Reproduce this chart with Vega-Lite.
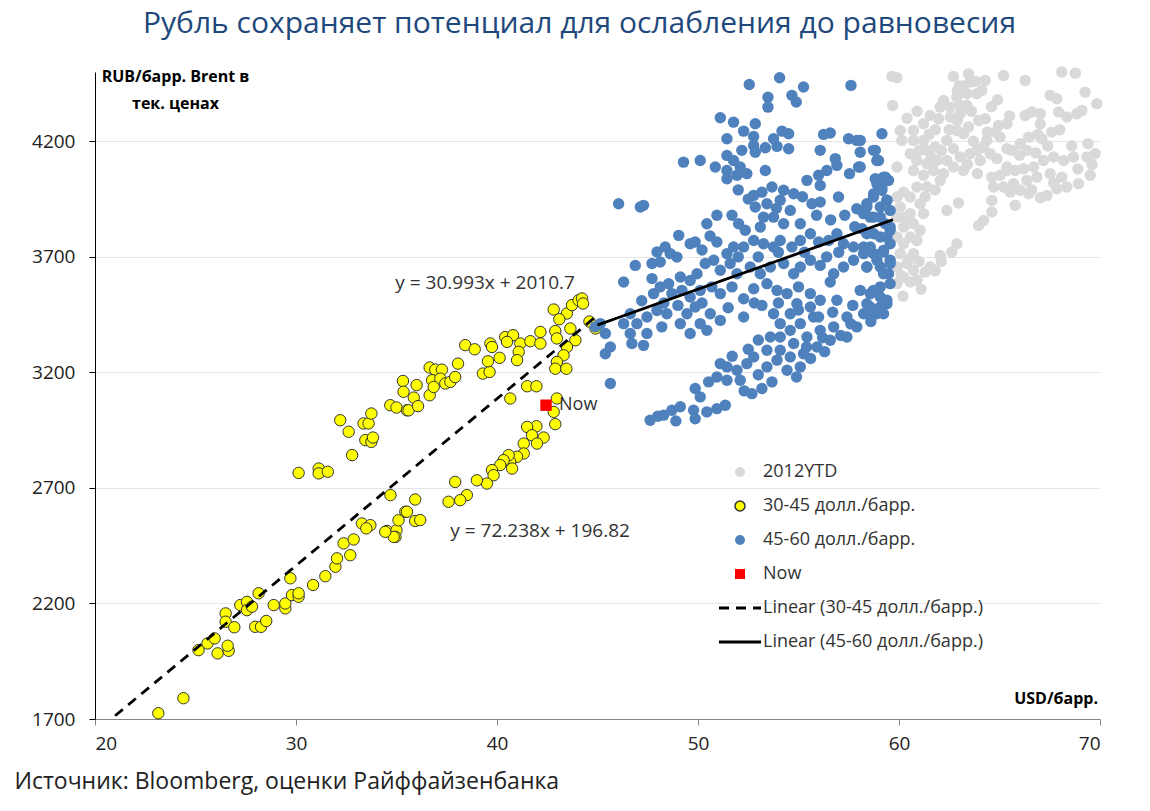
{
  "$schema": "https://vega.github.io/schema/vega-lite/v6.json",
  "width": 1005,
  "height": 647,
  "autosize": {"type": "none"},
  "padding": {"left": 95, "top": 72, "right": 50, "bottom": 92},
  "background": "white",
  "config": {
    "view": {"stroke": null},
    "font": "Open Sans",
    "text": {"font": "Open Sans"},
    "legend": {
      "orient": "none",
      "padding": 0,
      "rowPadding": 16,
      "labelFont": "Open Sans",
      "labelFontSize": 18,
      "labelColor": "#333333",
      "labelLimit": 400,
      "labelOffset": 14,
      "symbolSize": 100,
      "symbolOpacity": 1
    }
  },
  "title": {
    "text": "Рубль сохраняет потенциал для ослабления до равновесия",
    "font": "Open Sans",
    "fontSize": 30,
    "fontWeight": "normal",
    "color": "#1f497d",
    "anchor": "middle",
    "offset": 25,
    "dx": -18
  },
  "datasets": {
    "pts": [
      {"s": "g", "x": 59.65, "y": 4481}, {"s": "g", "x": 59.9, "y": 4475}, {"s": "g", "x": 59.68, "y": 4355}, {"s": "g", "x": 62.71, "y": 4481},
      {"s": "g", "x": 63.46, "y": 4492}, {"s": "g", "x": 63.54, "y": 4456}, {"s": "g", "x": 64.29, "y": 4463}, {"s": "g", "x": 65.2, "y": 4485},
      {"s": "g", "x": 66.28, "y": 4463}, {"s": "g", "x": 68.1, "y": 4500}, {"s": "g", "x": 68.77, "y": 4495}, {"s": "g", "x": 69.26, "y": 4413},
      {"s": "g", "x": 69.84, "y": 4363}, {"s": "g", "x": 67.52, "y": 4399}, {"s": "g", "x": 67.85, "y": 4384}, {"s": "g", "x": 67.94, "y": 4327},
      {"s": "g", "x": 67.03, "y": 4319}, {"s": "g", "x": 66.61, "y": 4327}, {"s": "g", "x": 66.28, "y": 4312}, {"s": "g", "x": 68.35, "y": 4305},
      {"s": "g", "x": 68.85, "y": 4319}, {"s": "g", "x": 69.1, "y": 4334}, {"s": "g", "x": 67.03, "y": 4276}, {"s": "g", "x": 67.6, "y": 4240},
      {"s": "g", "x": 67.11, "y": 4211}, {"s": "g", "x": 66.45, "y": 4218}, {"s": "g", "x": 66.03, "y": 4190}, {"s": "g", "x": 66.36, "y": 4161},
      {"s": "g", "x": 65.62, "y": 4161}, {"s": "g", "x": 65.37, "y": 4276}, {"s": "g", "x": 64.95, "y": 4269}, {"s": "g", "x": 64.79, "y": 4240},
      {"s": "g", "x": 64.37, "y": 4204}, {"s": "g", "x": 64.21, "y": 4175}, {"s": "g", "x": 63.96, "y": 4290}, {"s": "g", "x": 64.29, "y": 4298},
      {"s": "g", "x": 65.03, "y": 4218}, {"s": "g", "x": 62.22, "y": 4377}, {"s": "g", "x": 62.88, "y": 4391}, {"s": "g", "x": 63.38, "y": 4406},
      {"s": "g", "x": 63.87, "y": 4406}, {"s": "g", "x": 64.12, "y": 4420}, {"s": "g", "x": 62.05, "y": 4348}, {"s": "g", "x": 62.55, "y": 4348},
      {"s": "g", "x": 63.05, "y": 4355}, {"s": "g", "x": 63.38, "y": 4355}, {"s": "g", "x": 61.55, "y": 4312}, {"s": "g", "x": 61.97, "y": 4298},
      {"s": "g", "x": 62.55, "y": 4305}, {"s": "g", "x": 63.05, "y": 4319}, {"s": "g", "x": 63.46, "y": 4262}, {"s": "g", "x": 63.21, "y": 4233},
      {"s": "g", "x": 62.88, "y": 4247}, {"s": "g", "x": 61.22, "y": 4276}, {"s": "g", "x": 60.72, "y": 4247}, {"s": "g", "x": 60.06, "y": 4247},
      {"s": "g", "x": 60.14, "y": 4204}, {"s": "g", "x": 60.72, "y": 4204}, {"s": "g", "x": 61.22, "y": 4204}, {"s": "g", "x": 61.8, "y": 4175},
      {"s": "g", "x": 62.38, "y": 4204}, {"s": "g", "x": 62.71, "y": 4168}, {"s": "g", "x": 61.39, "y": 4161}, {"s": "g", "x": 60.56, "y": 4146},
      {"s": "g", "x": 60.89, "y": 4117}, {"s": "g", "x": 61.39, "y": 4103}, {"s": "g", "x": 61.89, "y": 4117}, {"s": "g", "x": 62.38, "y": 4117},
      {"s": "g", "x": 63.05, "y": 4132}, {"s": "g", "x": 63.54, "y": 4146}, {"s": "g", "x": 64.04, "y": 4117}, {"s": "g", "x": 64.54, "y": 4146},
      {"s": "g", "x": 64.87, "y": 4125}, {"s": "g", "x": 65.37, "y": 4168}, {"s": "g", "x": 59.9, "y": 4089}, {"s": "g", "x": 60.72, "y": 4074},
      {"s": "g", "x": 61.22, "y": 4053}, {"s": "g", "x": 61.72, "y": 4074}, {"s": "g", "x": 62.22, "y": 4060}, {"s": "g", "x": 62.71, "y": 4089},
      {"s": "g", "x": 63.21, "y": 4074}, {"s": "g", "x": 62.05, "y": 4031}, {"s": "g", "x": 61.39, "y": 4002}, {"s": "g", "x": 60.89, "y": 4002},
      {"s": "g", "x": 60.23, "y": 3980}, {"s": "g", "x": 59.9, "y": 3959}, {"s": "g", "x": 60.56, "y": 3959}, {"s": "g", "x": 61.05, "y": 3930},
      {"s": "g", "x": 60.06, "y": 3916}, {"s": "g", "x": 60.56, "y": 3887}, {"s": "g", "x": 61.22, "y": 3887}, {"s": "g", "x": 59.9, "y": 3872},
      {"s": "g", "x": 60.23, "y": 3829}, {"s": "g", "x": 60.72, "y": 3843}, {"s": "g", "x": 61.05, "y": 3815}, {"s": "g", "x": 59.9, "y": 3786},
      {"s": "g", "x": 60.56, "y": 3786}, {"s": "g", "x": 60.23, "y": 3757}, {"s": "g", "x": 60.89, "y": 3771}, {"s": "g", "x": 60.06, "y": 3714},
      {"s": "g", "x": 60.72, "y": 3714}, {"s": "g", "x": 60.39, "y": 3671}, {"s": "g", "x": 59.9, "y": 3656}, {"s": "g", "x": 60.72, "y": 3642},
      {"s": "g", "x": 60.23, "y": 3613}, {"s": "g", "x": 59.9, "y": 3584}, {"s": "g", "x": 60.56, "y": 3591}, {"s": "g", "x": 61.3, "y": 3634},
      {"s": "g", "x": 61.55, "y": 3656}, {"s": "g", "x": 62.05, "y": 3706}, {"s": "g", "x": 62.63, "y": 3721}, {"s": "g", "x": 62.88, "y": 3757},
      {"s": "g", "x": 62.38, "y": 3901}, {"s": "g", "x": 62.96, "y": 3933}, {"s": "g", "x": 63.96, "y": 3836}, {"s": "g", "x": 64.21, "y": 3858},
      {"s": "g", "x": 64.62, "y": 3894}, {"s": "g", "x": 64.62, "y": 3944}, {"s": "g", "x": 64.7, "y": 4002}, {"s": "g", "x": 64.62, "y": 4045},
      {"s": "g", "x": 65.03, "y": 4053}, {"s": "g", "x": 65.37, "y": 4089}, {"s": "g", "x": 65.78, "y": 4074}, {"s": "g", "x": 66.2, "y": 4081},
      {"s": "g", "x": 66.7, "y": 4089}, {"s": "g", "x": 67.19, "y": 4117}, {"s": "g", "x": 67.69, "y": 4132}, {"s": "g", "x": 68.19, "y": 4117},
      {"s": "g", "x": 68.68, "y": 4132}, {"s": "g", "x": 69.35, "y": 4132}, {"s": "g", "x": 69.76, "y": 4146}, {"s": "g", "x": 69.51, "y": 4053},
      {"s": "g", "x": 68.93, "y": 4017}, {"s": "g", "x": 68.35, "y": 4002}, {"s": "g", "x": 67.85, "y": 3995}, {"s": "g", "x": 67.36, "y": 3966},
      {"s": "g", "x": 67.03, "y": 3956}, {"s": "g", "x": 68.1, "y": 4045}, {"s": "g", "x": 67.52, "y": 4060}, {"s": "g", "x": 66.86, "y": 4045},
      {"s": "g", "x": 66.36, "y": 4031}, {"s": "g", "x": 65.7, "y": 4017}, {"s": "g", "x": 65.54, "y": 3980}, {"s": "g", "x": 66.03, "y": 3988},
      {"s": "g", "x": 65.78, "y": 3923}, {"s": "g", "x": 66.45, "y": 3973}, {"s": "g", "x": 65.2, "y": 4002}, {"s": "g", "x": 65.37, "y": 4074},
      {"s": "g", "x": 63.7, "y": 4200}, {"s": "g", "x": 63.9, "y": 4160}, {"s": "g", "x": 62.9, "y": 4420}, {"s": "g", "x": 63.2, "y": 4440},
      {"s": "g", "x": 61.8, "y": 4250}, {"s": "g", "x": 61.5, "y": 4230}, {"s": "g", "x": 60.4, "y": 4300}, {"s": "g", "x": 60.9, "y": 4330},
      {"s": "g", "x": 62.1, "y": 3680}, {"s": "g", "x": 61.8, "y": 3640}, {"s": "g", "x": 60.9, "y": 3600}, {"s": "g", "x": 61.1, "y": 3560},
      {"s": "g", "x": 60.2, "y": 3530}, {"s": "g", "x": 66.9, "y": 4230}, {"s": "g", "x": 68.6, "y": 4180}, {"s": "g", "x": 69.4, "y": 4190},
      {"s": "g", "x": 62.5, "y": 4250}, {"s": "g", "x": 62.9, "y": 4290}, {"s": "g", "x": 63.6, "y": 4330}, {"s": "g", "x": 64.6, "y": 4350},
      {"s": "g", "x": 64.9, "y": 4380}, {"s": "g", "x": 65.5, "y": 4310}, {"s": "g", "x": 63.0, "y": 4440}, {"s": "g", "x": 63.8, "y": 4460},
      {"s": "g", "x": 64.4, "y": 4240}, {"s": "g", "x": 61.0, "y": 4160}, {"s": "g", "x": 61.6, "y": 4130}, {"s": "g", "x": 62.1, "y": 4160},
      {"s": "g", "x": 63.4, "y": 4100}, {"s": "g", "x": 63.9, "y": 4060}, {"s": "g", "x": 61.3, "y": 3960}, {"s": "g", "x": 61.8, "y": 3990},
      {"s": "g", "x": 60.3, "y": 3870}, {"s": "g", "x": 60.5, "y": 3690}, {"s": "g", "x": 61.0, "y": 3680}, {"s": "g", "x": 60.1, "y": 3620},
      {"s": "g", "x": 66.8, "y": 4150}, {"s": "g", "x": 67.4, "y": 4180}, {"s": "g", "x": 68.0, "y": 4250}, {"s": "g", "x": 68.9, "y": 4080},
      {"s": "g", "x": 69.6, "y": 4100}, {"s": "g", "x": 67.7, "y": 4020}, {"s": "g", "x": 66.6, "y": 3990}, {"s": "g", "x": 66.0, "y": 4140},
      {"s": "y", "x": 23.15, "y": 1725}, {"s": "y", "x": 24.4, "y": 1790}, {"s": "y", "x": 25.15, "y": 1998}, {"s": "y", "x": 25.6, "y": 2027},
      {"s": "y", "x": 25.95, "y": 2049}, {"s": "y", "x": 26.1, "y": 1984}, {"s": "y", "x": 26.65, "y": 1995}, {"s": "y", "x": 26.6, "y": 2017},
      {"s": "y", "x": 26.5, "y": 2157}, {"s": "y", "x": 26.5, "y": 2121}, {"s": "y", "x": 26.93, "y": 2097}, {"s": "y", "x": 27.23, "y": 2193},
      {"s": "y", "x": 27.56, "y": 2207}, {"s": "y", "x": 27.56, "y": 2171}, {"s": "y", "x": 27.81, "y": 2186}, {"s": "y", "x": 28.14, "y": 2244},
      {"s": "y", "x": 27.97, "y": 2099}, {"s": "y", "x": 28.26, "y": 2099}, {"s": "y", "x": 28.52, "y": 2124}, {"s": "y", "x": 28.89, "y": 2193},
      {"s": "y", "x": 29.47, "y": 2179}, {"s": "y", "x": 29.47, "y": 2200}, {"s": "y", "x": 29.72, "y": 2309}, {"s": "y", "x": 29.8, "y": 2236},
      {"s": "y", "x": 30.13, "y": 2229}, {"s": "y", "x": 30.13, "y": 2244}, {"s": "y", "x": 30.85, "y": 2280}, {"s": "y", "x": 31.46, "y": 2318},
      {"s": "y", "x": 31.96, "y": 2359}, {"s": "y", "x": 32.04, "y": 2395}, {"s": "y", "x": 32.37, "y": 2460}, {"s": "y", "x": 32.87, "y": 2477},
      {"s": "y", "x": 32.7, "y": 2409}, {"s": "y", "x": 33.28, "y": 2546}, {"s": "y", "x": 33.7, "y": 2539}, {"s": "y", "x": 33.5, "y": 2525},
      {"s": "y", "x": 34.53, "y": 2514}, {"s": "y", "x": 35.0, "y": 2517}, {"s": "y", "x": 34.95, "y": 2488}, {"s": "y", "x": 35.1, "y": 2560},
      {"s": "y", "x": 35.44, "y": 2597}, {"s": "y", "x": 34.7, "y": 2669}, {"s": "y", "x": 30.13, "y": 2765}, {"s": "y", "x": 31.13, "y": 2784},
      {"s": "y", "x": 31.13, "y": 2763}, {"s": "y", "x": 31.58, "y": 2770}, {"s": "y", "x": 32.79, "y": 2842}, {"s": "y", "x": 32.2, "y": 2993},
      {"s": "y", "x": 32.62, "y": 2943}, {"s": "y", "x": 33.36, "y": 2979}, {"s": "y", "x": 33.61, "y": 2979}, {"s": "y", "x": 33.75, "y": 3022},
      {"s": "y", "x": 33.45, "y": 2907}, {"s": "y", "x": 33.75, "y": 2899}, {"s": "y", "x": 33.83, "y": 2918}, {"s": "y", "x": 34.69, "y": 3058},
      {"s": "y", "x": 35.0, "y": 3048}, {"s": "y", "x": 35.32, "y": 3163}, {"s": "y", "x": 35.35, "y": 3116}, {"s": "y", "x": 35.52, "y": 3036},
      {"s": "y", "x": 36.0, "y": 3145}, {"s": "y", "x": 35.86, "y": 3091}, {"s": "y", "x": 35.6, "y": 3036}, {"s": "y", "x": 36.07, "y": 3054},
      {"s": "y", "x": 36.65, "y": 3221}, {"s": "y", "x": 36.93, "y": 3212}, {"s": "y", "x": 37.26, "y": 3212}, {"s": "y", "x": 36.77, "y": 3166},
      {"s": "y", "x": 37.18, "y": 3173}, {"s": "y", "x": 36.65, "y": 3101}, {"s": "y", "x": 36.85, "y": 3137}, {"s": "y", "x": 37.43, "y": 3152},
      {"s": "y", "x": 37.68, "y": 3159}, {"s": "y", "x": 37.92, "y": 3180}, {"s": "y", "x": 38.06, "y": 3238}, {"s": "y", "x": 38.42, "y": 3318},
      {"s": "y", "x": 38.89, "y": 3300}, {"s": "y", "x": 39.3, "y": 3195}, {"s": "y", "x": 39.63, "y": 3202}, {"s": "y", "x": 39.55, "y": 3248},
      {"s": "y", "x": 39.67, "y": 3325}, {"s": "y", "x": 39.75, "y": 3310}, {"s": "y", "x": 40.13, "y": 3263}, {"s": "y", "x": 40.41, "y": 3353},
      {"s": "y", "x": 40.8, "y": 3361}, {"s": "y", "x": 40.5, "y": 3332}, {"s": "y", "x": 41.16, "y": 3325}, {"s": "y", "x": 41.08, "y": 3289},
      {"s": "y", "x": 41.0, "y": 3253}, {"s": "y", "x": 41.66, "y": 3335}, {"s": "y", "x": 42.16, "y": 3375}, {"s": "y", "x": 42.16, "y": 3325},
      {"s": "y", "x": 42.9, "y": 3379}, {"s": "y", "x": 42.82, "y": 3472}, {"s": "y", "x": 43.48, "y": 3455}, {"s": "y", "x": 43.73, "y": 3491},
      {"s": "y", "x": 44.06, "y": 3512}, {"s": "y", "x": 44.23, "y": 3520}, {"s": "y", "x": 44.28, "y": 3498}, {"s": "y", "x": 43.65, "y": 3390},
      {"s": "y", "x": 43.9, "y": 3339}, {"s": "y", "x": 43.48, "y": 3310}, {"s": "y", "x": 43.31, "y": 3274}, {"s": "y", "x": 42.98, "y": 3245},
      {"s": "y", "x": 42.9, "y": 3216}, {"s": "y", "x": 43.45, "y": 3216}, {"s": "y", "x": 42.98, "y": 3347}, {"s": "y", "x": 41.5, "y": 3140},
      {"s": "y", "x": 41.96, "y": 3140}, {"s": "y", "x": 40.66, "y": 3087}, {"s": "y", "x": 42.98, "y": 3087}, {"s": "y", "x": 42.82, "y": 3029},
      {"s": "y", "x": 42.9, "y": 2976}, {"s": "y", "x": 41.96, "y": 2967}, {"s": "y", "x": 41.5, "y": 2964}, {"s": "y", "x": 41.74, "y": 2928},
      {"s": "y", "x": 42.32, "y": 2918}, {"s": "y", "x": 41.99, "y": 2892}, {"s": "y", "x": 41.33, "y": 2892}, {"s": "y", "x": 41.33, "y": 2849},
      {"s": "y", "x": 41.0, "y": 2835}, {"s": "y", "x": 40.66, "y": 2813}, {"s": "y", "x": 40.58, "y": 2842}, {"s": "y", "x": 40.33, "y": 2820},
      {"s": "y", "x": 40.75, "y": 2784}, {"s": "y", "x": 40.16, "y": 2799}, {"s": "y", "x": 39.75, "y": 2777}, {"s": "y", "x": 39.83, "y": 2755},
      {"s": "y", "x": 39.5, "y": 2719}, {"s": "y", "x": 39.0, "y": 2733}, {"s": "y", "x": 38.5, "y": 2669}, {"s": "y", "x": 38.17, "y": 2647},
      {"s": "y", "x": 37.92, "y": 2726}, {"s": "y", "x": 37.59, "y": 2640}, {"s": "y", "x": 35.93, "y": 2650}, {"s": "y", "x": 35.52, "y": 2597},
      {"s": "y", "x": 35.93, "y": 2557}, {"s": "y", "x": 36.18, "y": 2561}, {"s": "y", "x": 34.86, "y": 2488}, {"s": "y", "x": 34.44, "y": 2510},
      {"s": "y", "x": 44.9, "y": 3390}, {"s": "y", "x": 44.6, "y": 3420}, {"s": "y", "x": 43.1, "y": 3430},
      {"s": "b", "x": 52.55, "y": 4446}, {"s": "b", "x": 54.06, "y": 4475}, {"s": "b", "x": 55.25, "y": 4435}, {"s": "b", "x": 57.61, "y": 4442},
      {"s": "b", "x": 53.48, "y": 4391}, {"s": "b", "x": 53.48, "y": 4348}, {"s": "b", "x": 54.67, "y": 4399}, {"s": "b", "x": 54.89, "y": 4370},
      {"s": "b", "x": 51.11, "y": 4302}, {"s": "b", "x": 51.77, "y": 4283}, {"s": "b", "x": 52.85, "y": 4276}, {"s": "b", "x": 52.27, "y": 4244},
      {"s": "b", "x": 51.44, "y": 4211}, {"s": "b", "x": 52.77, "y": 4221}, {"s": "b", "x": 54.18, "y": 4244}, {"s": "b", "x": 54.51, "y": 4233},
      {"s": "b", "x": 53.76, "y": 4211}, {"s": "b", "x": 52.77, "y": 4182}, {"s": "b", "x": 53.35, "y": 4172}, {"s": "b", "x": 53.93, "y": 4178},
      {"s": "b", "x": 54.51, "y": 4168}, {"s": "b", "x": 52.18, "y": 4161}, {"s": "b", "x": 51.44, "y": 4139}, {"s": "b", "x": 52.85, "y": 4153},
      {"s": "b", "x": 56.25, "y": 4230}, {"s": "b", "x": 56.58, "y": 4236}, {"s": "b", "x": 57.49, "y": 4211}, {"s": "b", "x": 57.9, "y": 4204},
      {"s": "b", "x": 59.15, "y": 4233}, {"s": "b", "x": 56.08, "y": 4161}, {"s": "b", "x": 56.83, "y": 4125}, {"s": "b", "x": 58.07, "y": 4153},
      {"s": "b", "x": 58.82, "y": 4161}, {"s": "b", "x": 58.98, "y": 4117}, {"s": "b", "x": 49.28, "y": 4110}, {"s": "b", "x": 50.11, "y": 4117},
      {"s": "b", "x": 50.86, "y": 4089}, {"s": "b", "x": 51.77, "y": 4117}, {"s": "b", "x": 52.1, "y": 4089}, {"s": "b", "x": 51.44, "y": 4074},
      {"s": "b", "x": 52.43, "y": 4060}, {"s": "b", "x": 51.94, "y": 4053}, {"s": "b", "x": 51.44, "y": 4038}, {"s": "b", "x": 53.35, "y": 4074},
      {"s": "b", "x": 55.42, "y": 4031}, {"s": "b", "x": 56.0, "y": 4053}, {"s": "b", "x": 56.41, "y": 4074}, {"s": "b", "x": 56.08, "y": 4009},
      {"s": "b", "x": 56.91, "y": 4096}, {"s": "b", "x": 57.54, "y": 4060}, {"s": "b", "x": 57.99, "y": 4089}, {"s": "b", "x": 59.32, "y": 4045},
      {"s": "b", "x": 58.82, "y": 4038}, {"s": "b", "x": 46.05, "y": 3930}, {"s": "b", "x": 47.13, "y": 3916}, {"s": "b", "x": 47.29, "y": 3923},
      {"s": "b", "x": 50.94, "y": 3880}, {"s": "b", "x": 50.44, "y": 3843}, {"s": "b", "x": 51.69, "y": 3880}, {"s": "b", "x": 52.02, "y": 3843},
      {"s": "b", "x": 52.35, "y": 3815}, {"s": "b", "x": 52.77, "y": 3966}, {"s": "b", "x": 53.18, "y": 3980}, {"s": "b", "x": 53.68, "y": 4002},
      {"s": "b", "x": 54.26, "y": 3988}, {"s": "b", "x": 54.76, "y": 3973}, {"s": "b", "x": 54.09, "y": 3945}, {"s": "b", "x": 53.43, "y": 3930},
      {"s": "b", "x": 52.85, "y": 3916}, {"s": "b", "x": 54.59, "y": 3901}, {"s": "b", "x": 55.09, "y": 3843}, {"s": "b", "x": 53.26, "y": 3872},
      {"s": "b", "x": 53.76, "y": 3872}, {"s": "b", "x": 54.26, "y": 3843}, {"s": "b", "x": 53.1, "y": 3829}, {"s": "b", "x": 55.67, "y": 3930},
      {"s": "b", "x": 56.08, "y": 3937}, {"s": "b", "x": 56.99, "y": 3959}, {"s": "b", "x": 57.9, "y": 3908}, {"s": "b", "x": 58.4, "y": 3916},
      {"s": "b", "x": 58.74, "y": 3973}, {"s": "b", "x": 59.15, "y": 4002}, {"s": "b", "x": 59.4, "y": 3945}, {"s": "b", "x": 58.57, "y": 3872},
      {"s": "b", "x": 59.07, "y": 3872}, {"s": "b", "x": 59.56, "y": 3829}, {"s": "b", "x": 59.4, "y": 3786}, {"s": "b", "x": 58.74, "y": 3800},
      {"s": "b", "x": 58.16, "y": 3822}, {"s": "b", "x": 49.04, "y": 3793}, {"s": "b", "x": 49.61, "y": 3757}, {"s": "b", "x": 49.86, "y": 3764},
      {"s": "b", "x": 48.37, "y": 3743}, {"s": "b", "x": 47.96, "y": 3721}, {"s": "b", "x": 48.62, "y": 3714}, {"s": "b", "x": 48.95, "y": 3699},
      {"s": "b", "x": 47.71, "y": 3671}, {"s": "b", "x": 48.12, "y": 3678}, {"s": "b", "x": 47.71, "y": 3606}, {"s": "b", "x": 46.88, "y": 3663},
      {"s": "b", "x": 46.3, "y": 3591}, {"s": "b", "x": 50.94, "y": 3764}, {"s": "b", "x": 51.44, "y": 3714}, {"s": "b", "x": 51.77, "y": 3743},
      {"s": "b", "x": 52.27, "y": 3743}, {"s": "b", "x": 52.77, "y": 3771}, {"s": "b", "x": 53.26, "y": 3757}, {"s": "b", "x": 53.76, "y": 3743},
      {"s": "b", "x": 54.09, "y": 3771}, {"s": "b", "x": 54.67, "y": 3743}, {"s": "b", "x": 55.09, "y": 3771}, {"s": "b", "x": 55.59, "y": 3800},
      {"s": "b", "x": 56.0, "y": 3764}, {"s": "b", "x": 56.5, "y": 3771}, {"s": "b", "x": 56.91, "y": 3800}, {"s": "b", "x": 57.24, "y": 3757},
      {"s": "b", "x": 57.74, "y": 3743}, {"s": "b", "x": 58.24, "y": 3743}, {"s": "b", "x": 58.74, "y": 3714}, {"s": "b", "x": 59.23, "y": 3721},
      {"s": "b", "x": 59.56, "y": 3685}, {"s": "b", "x": 59.07, "y": 3656}, {"s": "b", "x": 58.4, "y": 3656}, {"s": "b", "x": 57.74, "y": 3685},
      {"s": "b", "x": 57.24, "y": 3656}, {"s": "b", "x": 56.75, "y": 3627}, {"s": "b", "x": 56.08, "y": 3663}, {"s": "b", "x": 55.59, "y": 3685},
      {"s": "b", "x": 55.09, "y": 3656}, {"s": "b", "x": 54.76, "y": 3627}, {"s": "b", "x": 54.26, "y": 3671}, {"s": "b", "x": 53.6, "y": 3656},
      {"s": "b", "x": 53.1, "y": 3627}, {"s": "b", "x": 52.6, "y": 3656}, {"s": "b", "x": 51.94, "y": 3627}, {"s": "b", "x": 51.6, "y": 3671},
      {"s": "b", "x": 51.11, "y": 3642}, {"s": "b", "x": 50.78, "y": 3685}, {"s": "b", "x": 50.36, "y": 3671}, {"s": "b", "x": 49.95, "y": 3627},
      {"s": "b", "x": 49.61, "y": 3598}, {"s": "b", "x": 49.12, "y": 3613}, {"s": "b", "x": 48.54, "y": 3584}, {"s": "b", "x": 48.12, "y": 3570},
      {"s": "b", "x": 47.79, "y": 3541}, {"s": "b", "x": 48.7, "y": 3541}, {"s": "b", "x": 49.2, "y": 3555}, {"s": "b", "x": 49.61, "y": 3526},
      {"s": "b", "x": 50.11, "y": 3555}, {"s": "b", "x": 50.69, "y": 3570}, {"s": "b", "x": 51.11, "y": 3541}, {"s": "b", "x": 51.69, "y": 3570},
      {"s": "b", "x": 52.27, "y": 3519}, {"s": "b", "x": 52.77, "y": 3562}, {"s": "b", "x": 53.43, "y": 3584}, {"s": "b", "x": 53.93, "y": 3555},
      {"s": "b", "x": 54.43, "y": 3541}, {"s": "b", "x": 55.0, "y": 3570}, {"s": "b", "x": 55.59, "y": 3541}, {"s": "b", "x": 56.08, "y": 3512},
      {"s": "b", "x": 56.58, "y": 3591}, {"s": "b", "x": 56.91, "y": 3512}, {"s": "b", "x": 58.07, "y": 3555}, {"s": "b", "x": 58.57, "y": 3541},
      {"s": "b", "x": 59.07, "y": 3570}, {"s": "b", "x": 59.48, "y": 3627}, {"s": "b", "x": 59.4, "y": 3512}, {"s": "b", "x": 59.07, "y": 3483},
      {"s": "b", "x": 58.57, "y": 3483}, {"s": "b", "x": 58.24, "y": 3454}, {"s": "b", "x": 58.9, "y": 3454}, {"s": "b", "x": 46.63, "y": 3454},
      {"s": "b", "x": 46.3, "y": 3411}, {"s": "b", "x": 46.96, "y": 3411}, {"s": "b", "x": 47.46, "y": 3440}, {"s": "b", "x": 47.96, "y": 3468},
      {"s": "b", "x": 48.45, "y": 3454}, {"s": "b", "x": 48.2, "y": 3397}, {"s": "b", "x": 49.12, "y": 3411}, {"s": "b", "x": 49.45, "y": 3454},
      {"s": "b", "x": 49.86, "y": 3483}, {"s": "b", "x": 50.11, "y": 3411}, {"s": "b", "x": 50.61, "y": 3454}, {"s": "b", "x": 51.11, "y": 3425},
      {"s": "b", "x": 50.44, "y": 3382}, {"s": "b", "x": 49.61, "y": 3368}, {"s": "b", "x": 47.46, "y": 3368}, {"s": "b", "x": 46.63, "y": 3368},
      {"s": "b", "x": 47.29, "y": 3317}, {"s": "b", "x": 46.71, "y": 3325}, {"s": "b", "x": 45.39, "y": 3368}, {"s": "b", "x": 45.14, "y": 3411},
      {"s": "b", "x": 44.89, "y": 3397}, {"s": "b", "x": 45.39, "y": 3281}, {"s": "b", "x": 45.64, "y": 3310}, {"s": "b", "x": 45.64, "y": 3152},
      {"s": "b", "x": 52.27, "y": 3440}, {"s": "b", "x": 53.18, "y": 3490}, {"s": "b", "x": 53.76, "y": 3454}, {"s": "b", "x": 54.09, "y": 3411},
      {"s": "b", "x": 54.59, "y": 3454}, {"s": "b", "x": 54.92, "y": 3497}, {"s": "b", "x": 55.59, "y": 3483}, {"s": "b", "x": 55.75, "y": 3440},
      {"s": "b", "x": 55.09, "y": 3411}, {"s": "b", "x": 54.59, "y": 3382}, {"s": "b", "x": 54.09, "y": 3353}, {"s": "b", "x": 53.6, "y": 3353},
      {"s": "b", "x": 53.43, "y": 3296}, {"s": "b", "x": 54.09, "y": 3296}, {"s": "b", "x": 54.76, "y": 3325}, {"s": "b", "x": 55.42, "y": 3353},
      {"s": "b", "x": 56.08, "y": 3382}, {"s": "b", "x": 56.75, "y": 3397}, {"s": "b", "x": 57.41, "y": 3440}, {"s": "b", "x": 57.9, "y": 3397},
      {"s": "b", "x": 57.41, "y": 3353}, {"s": "b", "x": 56.58, "y": 3339}, {"s": "b", "x": 55.92, "y": 3310}, {"s": "b", "x": 55.25, "y": 3281},
      {"s": "b", "x": 54.59, "y": 3267}, {"s": "b", "x": 53.93, "y": 3253}, {"s": "b", "x": 53.43, "y": 3224}, {"s": "b", "x": 54.43, "y": 3209},
      {"s": "b", "x": 55.09, "y": 3224}, {"s": "b", "x": 52.77, "y": 3267}, {"s": "b", "x": 52.43, "y": 3238}, {"s": "b", "x": 51.94, "y": 3209},
      {"s": "b", "x": 51.44, "y": 3224}, {"s": "b", "x": 51.11, "y": 3238}, {"s": "b", "x": 50.94, "y": 3180}, {"s": "b", "x": 50.53, "y": 3159},
      {"s": "b", "x": 51.44, "y": 3166}, {"s": "b", "x": 52.1, "y": 3166}, {"s": "b", "x": 52.68, "y": 3108}, {"s": "b", "x": 53.18, "y": 3130},
      {"s": "b", "x": 53.68, "y": 3159}, {"s": "b", "x": 49.86, "y": 3130}, {"s": "b", "x": 50.11, "y": 3094}, {"s": "b", "x": 51.36, "y": 3058},
      {"s": "b", "x": 50.94, "y": 3043}, {"s": "b", "x": 49.78, "y": 3036}, {"s": "b", "x": 49.12, "y": 3051}, {"s": "b", "x": 48.7, "y": 3036},
      {"s": "b", "x": 48.29, "y": 3015}, {"s": "b", "x": 47.62, "y": 2993}, {"s": "b", "x": 49.86, "y": 2999}, {"s": "b", "x": 50.44, "y": 3029},
      {"s": "b", "x": 58.07, "y": 4204}, {"s": "b", "x": 58.73, "y": 4161}, {"s": "b", "x": 58.9, "y": 4117}, {"s": "b", "x": 58.07, "y": 4089},
      {"s": "b", "x": 59.23, "y": 4045}, {"s": "b", "x": 59.48, "y": 4031}, {"s": "b", "x": 58.9, "y": 4017}, {"s": "b", "x": 59.15, "y": 3988},
      {"s": "b", "x": 58.73, "y": 3959}, {"s": "b", "x": 59.4, "y": 3945}, {"s": "b", "x": 58.4, "y": 3930}, {"s": "b", "x": 59.07, "y": 3916},
      {"s": "b", "x": 59.56, "y": 3901}, {"s": "b", "x": 58.24, "y": 3887}, {"s": "b", "x": 58.73, "y": 3872}, {"s": "b", "x": 59.32, "y": 3843},
      {"s": "b", "x": 59.56, "y": 3815}, {"s": "b", "x": 58.4, "y": 3800}, {"s": "b", "x": 59.07, "y": 3786}, {"s": "b", "x": 59.56, "y": 3757},
      {"s": "b", "x": 58.57, "y": 3743}, {"s": "b", "x": 59.23, "y": 3728}, {"s": "b", "x": 58.24, "y": 3714}, {"s": "b", "x": 58.9, "y": 3685},
      {"s": "b", "x": 59.56, "y": 3671}, {"s": "b", "x": 58.4, "y": 3656}, {"s": "b", "x": 59.23, "y": 3627}, {"s": "b", "x": 59.56, "y": 3584},
      {"s": "b", "x": 58.73, "y": 3555}, {"s": "b", "x": 59.07, "y": 3526}, {"s": "b", "x": 58.4, "y": 3497}, {"s": "b", "x": 59.4, "y": 3497},
      {"s": "b", "x": 58.73, "y": 3454}, {"s": "b", "x": 59.23, "y": 3454}, {"s": "b", "x": 58.6, "y": 3420}, {"s": "b", "x": 57.6, "y": 3410},
      {"s": "b", "x": 57.1, "y": 3360}, {"s": "b", "x": 56.3, "y": 3290}, {"s": "b", "x": 55.6, "y": 3260}, {"s": "b", "x": 54.9, "y": 3180},
      {"s": "b", "x": 53.0, "y": 3190}, {"s": "b", "x": 52.3, "y": 3120}, {"s": "b", "x": 48.0, "y": 3010}, {"s": "b", "x": 48.9, "y": 2990},
      {"s": "b", "x": 52.0, "y": 3990}, {"s": "b", "x": 52.5, "y": 3950}, {"s": "b", "x": 53.9, "y": 3910}, {"s": "b", "x": 55.2, "y": 3960},
      {"s": "b", "x": 55.9, "y": 3880}, {"s": "b", "x": 56.6, "y": 3860}, {"s": "b", "x": 57.3, "y": 3880}, {"s": "b", "x": 57.8, "y": 3830},
      {"s": "b", "x": 50.2, "y": 3730}, {"s": "b", "x": 50.6, "y": 3790}, {"s": "b", "x": 52.0, "y": 3700}, {"s": "b", "x": 53.0, "y": 3700},
      {"s": "b", "x": 54.0, "y": 3720}, {"s": "b", "x": 55.3, "y": 3720}, {"s": "b", "x": 56.4, "y": 3700}, {"s": "b", "x": 57.0, "y": 3720},
      {"s": "b", "x": 47.2, "y": 3510}, {"s": "b", "x": 48.3, "y": 3500}, {"s": "b", "x": 49.0, "y": 3490}, {"s": "b", "x": 50.2, "y": 3500},
      {"s": "b", "x": 51.5, "y": 3480}, {"s": "b", "x": 52.8, "y": 3500}, {"s": "b", "x": 54.0, "y": 3500}, {"s": "b", "x": 55.0, "y": 3470},
      {"s": "b", "x": 56.0, "y": 3440}, {"s": "b", "x": 56.7, "y": 3460}, {"s": "b", "x": 57.7, "y": 3490}, {"s": "b", "x": 55.4, "y": 3310},
      {"s": "b", "x": 56.2, "y": 3350}, {"s": "b", "x": 53.0, "y": 3340}, {"s": "b", "x": 52.5, "y": 3300}, {"s": "b", "x": 51.7, "y": 3270},
      {"s": "n", "x": 42.44, "y": 3058}
    ],
    "trends": [
      {"s": "Linear (30-45 долл./барр.)", "x": 21, "y": 1714},
      {"s": "Linear (30-45 долл./барр.)", "x": 44.9, "y": 3440},
      {"s": "Linear (45-60 долл./барр.)", "x": 45, "y": 3405},
      {"s": "Linear (45-60 долл./барр.)", "x": 59.7, "y": 3861}
    ],
    "now": [{"x": 42.44, "y": 3058, "t": "Now"}],
    "eq": [
      {"x": 34.94, "y": 3586, "t": "y = 30.993x + 2010.7"},
      {"x": 37.68, "y": 2513, "t": "y = 72.238x + 196.82"}
    ],
    "unit": [{"x": 70, "y": 1700, "t": "USD/барр."}]
  },
  "encoding": {
    "x": {
      "field": "x",
      "type": "quantitative",
      "scale": {"domain": [20, 70], "nice": false, "zero": false},
      "axis": {
        "values": [20, 30, 40, 50, 60, 70],
        "grid": false,
        "domainColor": "#868686",
        "tickColor": "#868686",
        "tickSize": 6,
        "labelFontSize": 19,
        "labelColor": "#222222",
        "labelPadding": 9,
        "labelFont": "Open Sans",
        "title": "Источник: Bloomberg, оценки Райффайзенбанка",
        "titleFont": "Open Sans",
        "titleFontSize": 23,
        "titleFontWeight": "normal",
        "titleColor": "#222222",
        "titleAlign": "left",
        "titleAnchor": "start",
        "titleBaseline": "middle",
        "titleX": -81,
        "titleY": 62
      }
    },
    "y": {
      "field": "y",
      "type": "quantitative",
      "scale": {"domain": [1700, 4500], "nice": false, "zero": false},
      "axis": {
        "values": [1700, 2200, 2700, 3200, 3700, 4200],
        "format": "d",
        "grid": true,
        "gridColor": "#e6e6e6",
        "domainColor": "#000000",
        "tickColor": "#000000",
        "tickSize": 6,
        "labelFontSize": 19,
        "labelColor": "#222222",
        "labelPadding": 14,
        "labelFont": "Open Sans",
        "title": ["RUB/барр. Brent в", "тек. ценах"],
        "titleFont": "Open Sans",
        "titleFontSize": 16,
        "titleFontWeight": "bold",
        "titleColor": "#000000",
        "titleAngle": 0,
        "titleAlign": "center",
        "titleBaseline": "top",
        "titleLineHeight": 27,
        "titleX": 80,
        "titleY": -4
      }
    }
  },
  "layer": [
    {
      "data": {"name": "pts"},
      "mark": {"type": "point", "filled": true, "size": 130, "opacity": 1, "strokeWidth": 1},
      "encoding": {
        "color": {
          "field": "s",
          "type": "nominal",
          "scale": {"domain": ["g", "y", "b", "n"], "range": ["#d9d9d9", "#ffff00", "#4f81bd", "#ff0000"]},
          "legend": {
            "title": null,
            "legendX": 636,
            "legendY": 391,
            "labelExpr": "datum.label === 'g' ? '2012YTD' : datum.label === 'y' ? '30-45 долл./барр.' : datum.label === 'b' ? '45-60 долл./барр.' : 'Now'"
          }
        },
        "shape": {
          "field": "s",
          "type": "nominal",
          "scale": {"domain": ["g", "y", "b", "n"], "range": ["circle", "circle", "circle", "square"]},
          "legend": {
            "title": null,
            "legendX": 636,
            "legendY": 391,
            "labelExpr": "datum.label === 'g' ? '2012YTD' : datum.label === 'y' ? '30-45 долл./барр.' : datum.label === 'b' ? '45-60 долл./барр.' : 'Now'"
          }
        },
        "stroke": {
          "field": "s",
          "type": "nominal",
          "scale": {"domain": ["g", "y", "b", "n"], "range": ["transparent", "#333333", "transparent", "transparent"]},
          "legend": {
            "title": null,
            "legendX": 636,
            "legendY": 391,
            "labelExpr": "datum.label === 'g' ? '2012YTD' : datum.label === 'y' ? '30-45 долл./барр.' : datum.label === 'b' ? '45-60 долл./барр.' : 'Now'"
          }
        }
      }
    },
    {
      "data": {"name": "trends"},
      "mark": {"type": "line", "strokeWidth": 2.8, "color": "#000000"},
      "encoding": {
        "strokeDash": {
          "field": "s",
          "type": "nominal",
          "scale": {"domain": ["Linear (30-45 долл./барр.)", "Linear (45-60 долл./барр.)"], "range": [[10, 7], [1, 0]]},
          "legend": {
            "title": null,
            "legendX": 636,
            "legendY": 527,
            "symbolType": "M-4.2,0H4.2",
            "symbolStrokeColor": "#000000",
            "symbolStrokeWidth": 3
          }
        }
      }
    },
    {
      "data": {"name": "now"},
      "mark": {"type": "text", "align": "left", "baseline": "middle", "dx": 13, "fontSize": 18, "color": "#333333"},
      "encoding": {"text": {"field": "t"}}
    },
    {
      "data": {"name": "eq"},
      "mark": {"type": "text", "align": "left", "baseline": "middle", "fontSize": 19, "color": "#333333"},
      "encoding": {"text": {"field": "t"}}
    },
    {
      "data": {"name": "unit"},
      "mark": {"type": "text", "align": "right", "baseline": "bottom", "dy": -12, "dx": -2, "fontSize": 16, "fontWeight": "bold", "color": "#000000"},
      "encoding": {"text": {"field": "t"}}
    }
  ]
}
